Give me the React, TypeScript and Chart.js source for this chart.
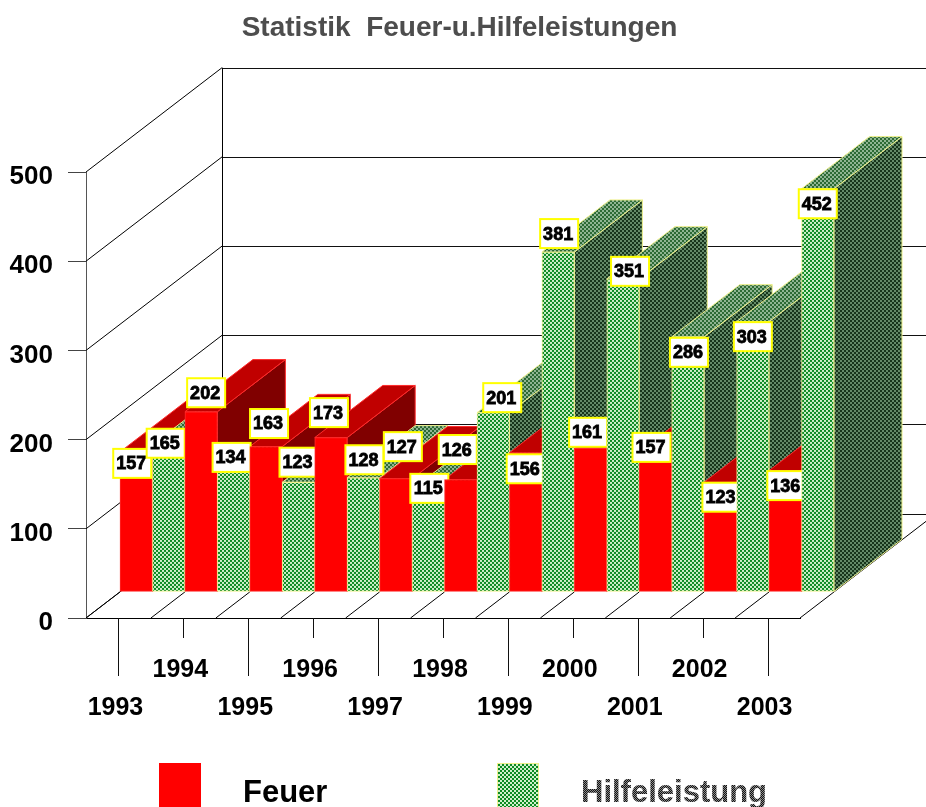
import React, { useEffect, useRef } from "react";
import { Chart, registerables } from "chart.js";

Chart.register(...registerables);

const TITLE = "Statistik  Feuer-u.Hilfeleistungen";
const YEARS = ["1993", "1994", "1995", "1996", "1997", "1998", "1999", "2000", "2001", "2002", "2003"];
const FEUER = [157, 202, 163, 173, 127, 126, 156, 161, 157, 123, 136];
const HILFE = [165, 134, 123, 128, 115, 201, 381, 351, 286, 303, 452];
// Hand-placed value boxes in the source: nudge from the bar's top centre.
const FEUER_NUDGE_X = [-4, 5, 3, -2, 7, -3, 0, -2.5, -4, 1, 1];
const FEUER_NUDGE_Y = [11.5, -19, -23, -25, -32, -30, 16, -16, -4.5, 15, 15];
const HILFE_NUDGE_X = [-3, -2, 0, 1, 1, 9, 1, 7, 1, 0, 0];
const HILFE_NUDGE_Y = [-1.5, -15, -20, -18, -1, -15, -18.5, -7.5, 15.5, 15, 15];

const FONT = "'Liberation Sans', Arial, sans-serif";
const CANVAS_W = 926;
const CANVAS_H = 807;
const AREA = { left: 86, right: 800, top: 172, bottom: 618 };
const DEPTH = { x: 136, y: -104.3 };

function checker(a: string, b: string, cell: number): CanvasPattern {
  const c = document.createElement("canvas");
  c.width = c.height = cell * 2;
  const g = c.getContext("2d")!;
  g.fillStyle = a;
  g.fillRect(0, 0, cell * 2, cell * 2);
  g.fillStyle = b;
  g.fillRect(0, 0, cell, cell);
  g.fillRect(cell, cell, cell, cell);
  return g.createPattern(c, "repeat")!;
}

function poly(ctx: CanvasRenderingContext2D, pts: number[][], fill: any, stroke: string) {
  ctx.beginPath();
  pts.forEach((p, i) => (i ? ctx.lineTo(p[0], p[1]) : ctx.moveTo(p[0], p[1])));
  ctx.closePath();
  ctx.fillStyle = fill;
  ctx.fill();
  ctx.strokeStyle = stroke;
  ctx.lineWidth = 1;
  ctx.stroke();
}

function line(ctx: CanvasRenderingContext2D, x1: number, y1: number, x2: number, y2: number, color = "#000") {
  ctx.beginPath();
  ctx.moveTo(x1, y1);
  ctx.lineTo(x2, y2);
  ctx.strokeStyle = color;
  ctx.lineWidth = 1;
  ctx.stroke();
}

export default function App() {
  const ref = useRef<HTMLCanvasElement | null>(null);

  useEffect(() => {
    const textPattern = checker("#111111", "#8a8a8a", 1);
    const greenFront = checker("#0c8a22", "#d0f0ca", 2);
    const greenTop = checker("#2c6a34", "#8fb592", 2);
    const greenSide = checker("#17351b", "#648a68", 2);
    const looks: any[] = [
      { top: "#c00000", side: "#800000", edge: "#ff2a2a" },
      { top: greenTop, side: greenSide, edge: "#eef08a" },
    ];
    const nudgeX = [FEUER_NUDGE_X, HILFE_NUDGE_X];
    const nudgeY = [FEUER_NUDGE_Y, HILFE_NUDGE_Y];

    const scene = {
      id: "scene",
      afterLayout(chart: any) {
        chart.titleBlock.left = 0;
        chart.titleBlock.right = 919;
      },
      beforeDatasetsDraw(chart: any) {
        const { ctx, scales } = chart;
        const xs = scales.x;
        const ys = scales.y;
        const y0 = ys.getPixelForValue(0);
        ctx.save();
        ctx.beginPath();
        ctx.rect(0, 0, CANVAS_W, CANVAS_H);
        ctx.clip();
        // walls
        ys.ticks.forEach((t: any) => {
          const y = ys.getPixelForValue(t.value);
          const by = Math.round(y + DEPTH.y) + 0.5;
          line(ctx, xs.left, y, xs.left + DEPTH.x, y + DEPTH.y);
          line(ctx, xs.left + DEPTH.x, by, CANVAS_W, by, "#111");
        });
        line(ctx, xs.left + DEPTH.x + 0.5, y0 + DEPTH.y, xs.left + DEPTH.x + 0.5, ys.getPixelForValue(500) + DEPTH.y);
        // floor
        const step = xs.getPixelForValue(1) - xs.getPixelForValue(0);
        YEARS.forEach((_, i) => {
          const bx = xs.getPixelForValue(i) - step / 2;
          line(ctx, bx, y0, bx + DEPTH.x / 4, y0 + DEPTH.y / 4);
          const tick = i % 2 ? 20 : 58;
          const px = Math.round(xs.getPixelForValue(i)) + 0.5;
          line(ctx, px, y0, px, y0 + tick, "#111");
        });
        line(ctx, xs.right, y0, xs.right + DEPTH.x, y0 + DEPTH.y);

        // bars left to right: faces, the previous value box, then the front
        const dx = DEPTH.x / 4;
        const dy = DEPTH.y / 4;
        const drawBox = (i: number, ds: number) => {
          const el = chart.getDatasetMeta(ds).data[i];
          const bx = el.x + dx + nudgeX[ds][i];
          const by = el.y + dy + nudgeY[ds][i];
          ctx.fillStyle = "#ffffff";
          ctx.fillRect(bx - 19, by - 14.5, 38, 29);
          ctx.strokeStyle = "#ffff00";
          ctx.lineWidth = 2;
          ctx.strokeRect(bx - 19, by - 14.5, 38, 29);
          ctx.fillStyle = "#000000";
          ctx.font = `bold 18px ${FONT}`;
          ctx.textAlign = "center";
          ctx.textBaseline = "middle";
          const txt = String(chart.data.datasets[ds].data[i]);
          ctx.fillText(txt, bx - 1, by + 1);
          ctx.strokeStyle = "#000000";
          ctx.lineWidth = 0.8;
          ctx.strokeText(txt, bx - 1, by + 1);
        };
        let prev: number[] | null = null;
        YEARS.forEach((_, i) => {
          [0, 1].forEach((ds) => {
            const el = chart.getDatasetMeta(ds).data[i];
            const look = looks[ds];
            const l = el.x - el.width / 2 + dx;
            const r = el.x + el.width / 2 + dx;
            const t = el.y + dy;
            const b = el.base + dy;
            const bdx = DEPTH.x / 2;
            const bdy = DEPTH.y / 2;
            poly(ctx, [[r, t], [r + bdx, t + bdy], [r + bdx, b + bdy], [r, b]], look.side, look.edge);
            poly(ctx, [[l, t], [l + bdx, t + bdy], [r + bdx, t + bdy], [r, t]], look.top, look.edge);
            if (prev) drawBox(prev[0], prev[1]);
            ctx.save();
            ctx.translate(dx, dy);
            el.draw(ctx);
            ctx.restore();
            prev = [i, ds];
          });
        });
        if (prev) drawBox(prev[0], prev[1]);
        ctx.restore();
        return false;
      },
      afterDraw(chart: any) {
        const { ctx } = chart;
        const items = [
          { box: 159, text: 243, color: "#000000" as any },
          { box: 497, text: 581, color: textPattern as any },
        ];
        ctx.save();
        items.forEach((it, ds) => {
          const set = chart.data.datasets[ds];
          ctx.fillStyle = set.backgroundColor;
          ctx.fillRect(it.box, 763, 42, 44);
          if (ds) {
            ctx.strokeStyle = "#eef08a";
            ctx.lineWidth = 1;
            ctx.strokeRect(it.box + 0.5, 763.5, 41, 44);
          }
          ctx.fillStyle = it.color;
          ctx.font = `bold 31px ${FONT}`;
          ctx.textAlign = "left";
          ctx.textBaseline = "alphabetic";
          ctx.fillText(set.label, it.text, 802);
        });
        ctx.restore();
      },
    };

    const chart = new Chart(ref.current!, {
      type: "bar",
      data: {
        labels: YEARS,
        datasets: [
          { label: "Feuer", data: FEUER, backgroundColor: "#ff0000", borderColor: "#ff2a2a", borderWidth: 1, borderSkipped: false },
          { label: "Hilfeleistung", data: HILFE, backgroundColor: greenFront, borderColor: "#eef08a", borderWidth: 1, borderSkipped: false },
        ],
      } as any,
      plugins: [scene as any],
      options: {
        animation: false,
        responsive: false,
        layout: {
          autoPadding: false,
          padding: { left: 0, right: CANVAS_W - AREA.right, top: 0, bottom: 0 },
        },
        datasets: { bar: { barPercentage: 1, categoryPercentage: 1 } },
        plugins: {
          legend: { display: false },
          tooltip: { enabled: false },
          title: {
            display: true,
            text: TITLE,
            color: textPattern as any,
            font: { family: FONT, size: 28, weight: "bold", lineHeight: 1.2 },
            padding: { top: 11, bottom: AREA.top - 11 - 33.6 },
          },
        },
        scales: {
          x: {
            afterFit(s: any) {
              s.height = CANVAS_H - AREA.bottom;
            },
            grid: { drawOnChartArea: false, drawTicks: false, offset: false },
            border: { display: true, color: "#000000" },
            ticks: {
              autoSkip: false,
              maxRotation: 0,
              minRotation: 0,
              padding: 33,
              labelOffset: -3,
              color: "#000000",
              font: { family: FONT, size: 25, weight: "bold", lineHeight: 1.52 },
              callback(this: any, value: any, index: number) {
                const label = this.getLabelForValue(value);
                return index % 2 ? [label] : ["", label];
              },
            },
          },
          y: {
            min: 0,
            max: 500,
            afterFit(s: any) {
              s.width = AREA.left;
            },
            grid: { drawOnChartArea: false, drawTicks: true, tickLength: 18, tickColor: "#444444" },
            border: { display: true, color: "#555555" },
            ticks: {
              stepSize: 100,
              padding: 15,
              labelOffset: 5,
              color: "#000000",
              font: { family: FONT, size: 26, weight: "bold" },
            },
          },
        },
      } as any,
    });
    return () => chart.destroy();
  }, []);

  return <canvas ref={ref} width={CANVAS_W} height={CANVAS_H} style={{ position: "absolute", left: 0, top: 0 }} />;
}
